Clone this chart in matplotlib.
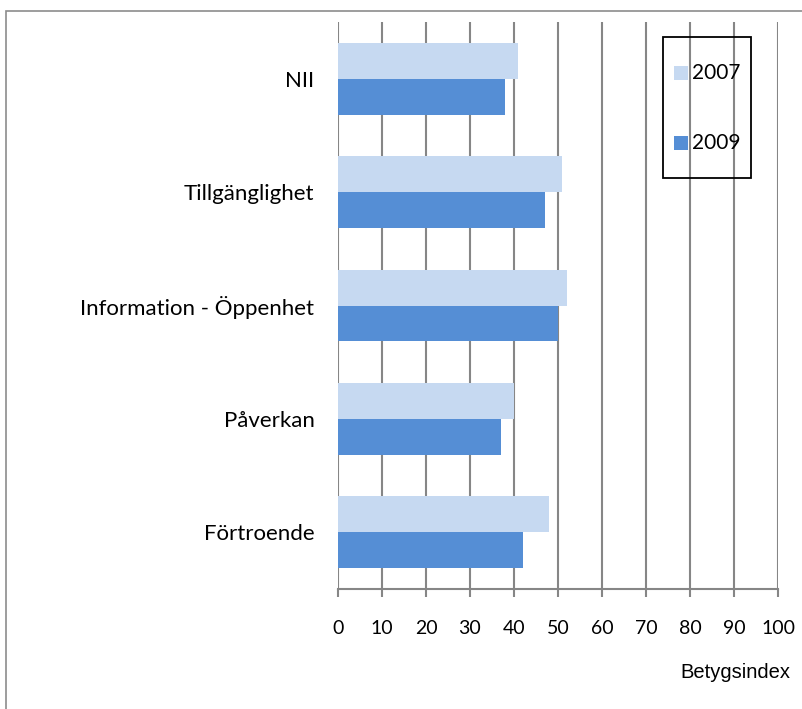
import matplotlib
matplotlib.use("Agg")
import matplotlib.pyplot as plt
import numpy as np
from matplotlib.patches import Rectangle

categories = ["NII", "Tillgänglighet", "Information - Öppenhet", "Påverkan", "Förtroende"]
values_2007 = [41, 51, 52, 40, 48]
values_2009 = [38, 47, 50, 37, 42]
series_labels = ["2007", "2009"]
xticks = list(range(0, 101, 10))

c2007 = "#C6D9F1"
c2009 = "#558ED5"
grid_c = "#868686"

fig = plt.figure(figsize=(8.03, 7.09), dpi=100)
ax = fig.add_axes([338/803, 1-589/709, (778-338)/803, (589-22)/709])

n = len(categories)
y = np.arange(n)[::-1].astype(float)
h = 0.317
ax.barh(y + h/2, values_2007, height=h, color=c2007, zorder=3, label=series_labels[0])
ax.barh(y - h/2, values_2009, height=h, color=c2009, zorder=3, label=series_labels[1])

ax.set_xlim(0, 100)
ax.set_ylim(-0.5, n - 0.5)
ax.set_xticks(xticks)
ax.set_xticklabels([str(t) for t in xticks], fontsize=14, family="Lato")
ax.set_yticks(y)
ax.set_yticklabels(categories, fontsize=16, family="Lato")
ax.tick_params(axis="y", length=0, pad=17)
ax.tick_params(axis="x", length=6, width=1.5, color=grid_c, pad=16, direction="out")
ax.xaxis.grid(True, color=grid_c, linewidth=1.5, zorder=0)
for s in ["top", "right", "left"]:
    ax.spines[s].set_visible(False)
ax.spines["bottom"].set_color(grid_c)
ax.spines["bottom"].set_linewidth(1.5)

# legend box (drawn manually to match the narrow tall frame)
fig.patches.append(Rectangle((663/803, 1-178/709), 88/803, 141/709,
                             transform=fig.transFigure, fill=False,
                             edgecolor="black", linewidth=1.3, zorder=5))
leg_colors = [c2007, c2009]
leg_y = [73, 143]
for lab, col, yy in zip(series_labels, leg_colors, leg_y):
    fig.patches.append(Rectangle((674/803, 1-(yy+7)/709), 14/803, 14/709,
                                 transform=fig.transFigure, facecolor=col,
                                 edgecolor="none", zorder=5))
    fig.text(692/803, 1-yy/709, lab, ha="left", va="center",
             fontsize=15, family="Lato", zorder=6)

fig.text(790/803, 1-673/709, "Betygsindex", ha="right", va="center",
         fontsize=14.5, family="Liberation Sans")

fig.patches.append(Rectangle((6/803, -0.1), 1.2, 1.1 - 11/709,
                             transform=fig.transFigure, fill=False,
                             edgecolor="#8c8c8c", linewidth=1.2))

fig.savefig("out.png", dpi=100)
